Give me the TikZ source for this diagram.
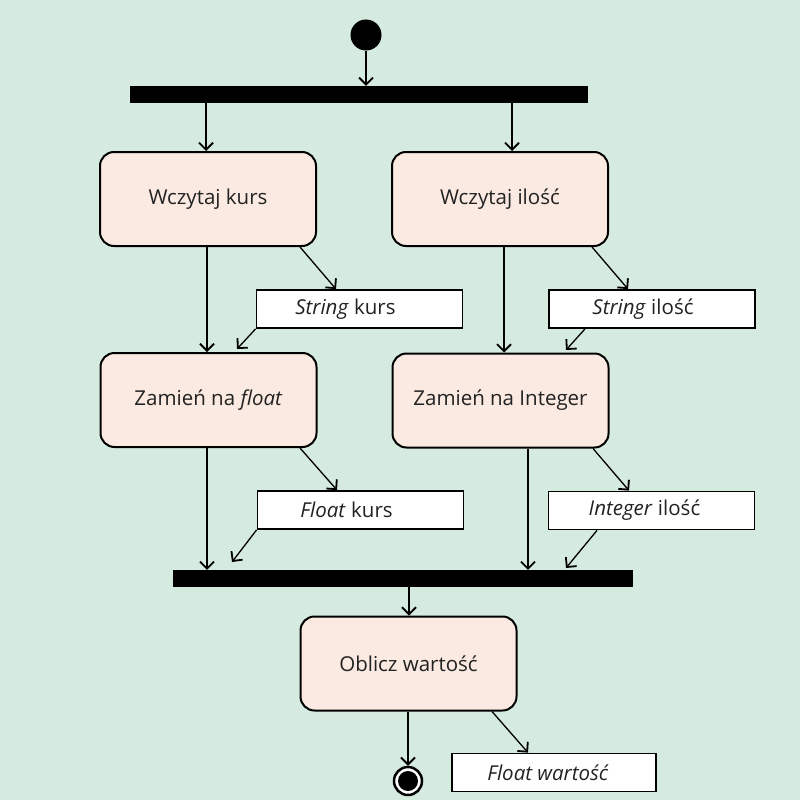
\documentclass[tikz,border=0pt]{standalone}
\usepackage{fontspec}
\setmainfont{Open Sans}
\usetikzlibrary{arrows.meta}
\definecolor{bg}{HTML}{D6EBDF}
\definecolor{act}{HTML}{FAEAE1}
\definecolor{txt}{HTML}{222222}
\begin{document}
\begin{tikzpicture}[x=1pt,y=-1pt,
  act/.style={draw,line width=2pt,rounded corners=14pt,fill=act,minimum width=216pt,minimum height=94pt,font=\fontsize{20.5}{24}\selectfont,text=txt,inner sep=0},
  obj/.style={draw,line width=1.8pt,fill=white,minimum width=206pt,minimum height=38pt,font=\fontsize{20.5}{24}\selectfont,text=txt,inner sep=0},
  bar/.style={fill=black,draw=none,inner sep=0,minimum height=17pt},
  arr/.style={line width=1.8pt,-{Straight Barb[length=7pt,width=14pt,line width=1.8pt]}},
  arrt/.style={line width=1.3pt,-{Straight Barb[length=7pt,width=14pt,line width=1.8pt]}}]
\fill[bg] (0,0) rectangle (800,800);
\useasboundingbox (0,0) rectangle (800,800);
\node[circle,fill=black,minimum size=31pt,inner sep=0] (start) at (366,35) {};
\node[bar,minimum width=458pt] (fork) at (359,94.5) {};
\node[act] (wk) at (208,199) {Wczytaj kurs};
\node[act] (wi) at (500,199) {Wczytaj ilość};
\node[obj] (sk) at (359.5,309) {\hspace*{-28pt}\textit{String} kurs};
\node[obj] (si) at (652,309) {\hspace*{-18pt}\textit{String} ilość};
\node[act] (zf) at (208.5,400) {Zamień na \textit{float}};
\node[act] (zi) at (500.5,400.5) {Zamień na Integer};
\node[obj] (fk) at (360.5,510) {\hspace*{-28pt}\textit{Float} kurs};
\node[obj] (ii) at (651.5,510.5) {\hspace*{-14pt}\textit{Integer} ilość};
\node[bar,minimum width=460pt] (join) at (403,578.5) {};
\node[act] (ob) at (408.5,663.5) {Oblicz wartość};
\node[obj,minimum width=204pt] (fw) at (554,772.5) {\hspace*{-12pt}\textit{Float wartość}};
\node[circle,draw,line width=2.5pt,fill=white,minimum size=28pt,inner sep=0] (end) at (408,781) {};
\fill (end.center) circle (10pt);

\draw[arr] (start.south) -- (start.south |- fork.north);
\draw[arr] (fork.south -| 206,0) -- (wk.north -| 206,0);
\draw[arr] (fork.south -| 512,0) -- (wi.north -| 512,0);
\draw[arrt] (wk.south -| 207,0) -- (zf.north -| 207,0);
\draw[arrt] (wk.south -| 300,0) -- (sk.north -| 336,0);
\draw[arrt] (sk.south west) -- (237,349);
\draw[arrt] (wi.south -| 504,0) -- (zi.north -| 504,0);
\draw[arrt] (wi.south -| 592,0) -- (si.north -| 628,0);
\draw[arrt] (si.south -| 585,0) -- (566,350);
\draw[arrt] (zf.south -| 207,0) -- (join.north -| 207,0);
\draw[arrt] (zf.south -| 300,0) -- (fk.north -| 337,0);
\draw[arrt] (fk.south west) -- (232,562);
\draw[arrt] (zi.south -| 528,0) -- (join.north -| 528,0);
\draw[arrt] (zi.south -| 593,0) -- (ii.north -| 629,0);
\draw[arrt] (ii.south -| 597,0) -- (566,568);
\draw[arr] (join.south -| 409,0) -- (ob.north -| 409,0);
\draw[arrt] (ob.south -| 408,0) -- (end.north);
\draw[arrt] (ob.south -| 492,0) -- (fw.north -| 528,0);
\end{tikzpicture}
\end{document}
